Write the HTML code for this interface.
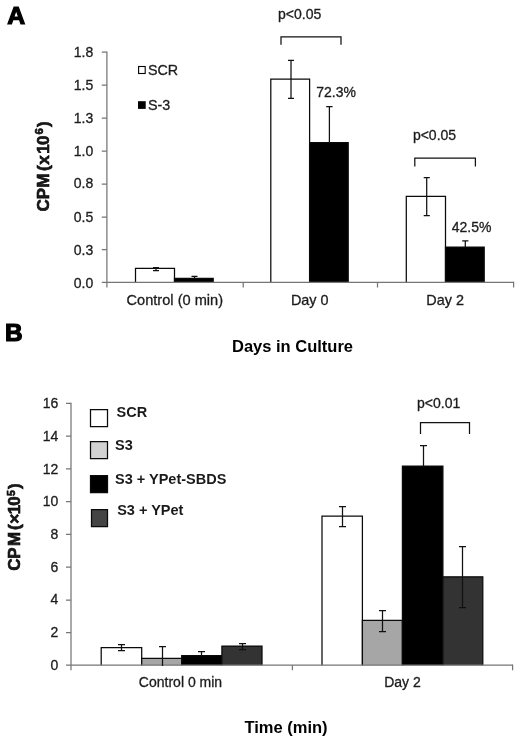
<!DOCTYPE html>
<html>
<head>
<meta charset="utf-8">
<title>Figure</title>
<style>
html,body{margin:0;padding:0;background:#fff;}
body{width:520px;height:741px;overflow:hidden;}
svg{display:block;filter:grayscale(1);}
text{font-family:"Liberation Sans",sans-serif;fill:#1a1a1a;}
.t{font-size:14px;stroke:#222;stroke-width:0.3;}
.b{font-weight:bold;fill:#000;}
.ax{stroke:#767676;stroke-width:1.25;fill:none;}
.ln{stroke:#111;stroke-width:1.25;fill:none;}
.bar{stroke:#0a0a0a;stroke-width:1.25;}
</style>
</head>
<body>
<svg width="520" height="741" viewBox="0 0 520 741">
<rect width="520" height="741" fill="#fff"/>

<!-- ================= PANEL A ================= -->
<text x="7.2" y="24" class="b" style="font-size:24.8px;stroke:#000;stroke-width:1.2;stroke-linejoin:miter">A</text>

<!-- axes -->
<g class="t" text-anchor="end">
<text x="93.3" y="56.8">1.8</text>
<text x="93.3" y="89.7">1.5</text>
<text x="93.3" y="122.9">1.3</text>
<text x="93.3" y="156.1">1.0</text>
<text x="93.3" y="188.3">0.8</text>
<text x="93.3" y="221.5">0.5</text>
<text x="93.3" y="255.1">0.3</text>
<text x="93.3" y="287.6">0.0</text>
</g>

<!-- bars A -->
<path class="bar" d="M135.5 282.4V268.4H174.5V282.4" fill="#fff"/>
<path class="bar" d="M174.5 282.4V278.3H213.2V282.4" fill="#000"/>
<path class="bar" d="M270.8 282.4V79H309.6V282.4" fill="#fff"/>
<path class="bar" d="M309.6 282.4V142.6H348.2V282.4" fill="#000"/>
<path class="bar" d="M406.3 282.4V196.3H445.5V282.4" fill="#fff"/>
<path class="bar" d="M445.5 282.4V247H484.2V282.4" fill="#000"/>

<g class="ax">
<path d="M106.9 51.5 V282.4 H513.6"/>
<path d="M101.8 52.1H106.9 M101.8 85.1H106.9 M101.8 118.0H106.9 M101.8 151.1H106.9 M101.8 184.2H106.9 M101.8 217.1H106.9 M101.8 249.5H106.9 M101.8 282.4H106.9"/>
<path d="M106.9 282.4V287.4 M243.2 282.4V287.4 M377.5 282.4V287.4 M513.6 281.8V287.4"/>
</g>

<!-- error bars A -->
<g class="ln">
<path d="M156 267.5V270.5 M153 267.5H159 M153 270.5H159"/>
<path d="M194.5 276.4V279 M191.5 276.4H197.5"/>
<path d="M291 60.3V98.3 M288 60.3H294 M288 98.3H294"/>
<path d="M329.4 106.6V143 M326.2 106.6H332.6"/>
<path d="M426.7 177.5V215.7 M423.7 177.5H429.8 M423.7 215.7H429.8"/>
<path d="M465.3 240.8V247 M462.2 240.8H468.4"/>
<!-- brackets -->
<path d="M281 44.7V36.8H341V44.7"/>
<path d="M414.8 166.6V158H475.4V166.6"/>
</g>

<!-- annotations -->
<text class="t" x="278" y="19.2">p&lt;0.05</text>
<text class="t" x="412.9" y="140.4">p&lt;0.05</text>
<text class="t" x="316.3" y="97.2">72.3%</text>
<text class="t" x="451.7" y="231.8">42.5%</text>

<!-- legend A -->
<rect x="138.6" y="66.5" width="6.6" height="7" fill="#fff" stroke="#000" stroke-width="1.1"/>
<text class="t" x="148" y="74.5" style="font-size:14.3px">SCR</text>
<rect x="138" y="101.2" width="7.7" height="7.7" fill="#000"/>
<text class="t" x="148" y="110.3" style="font-size:14.3px">S-3</text>

<!-- x labels A -->
<g class="t" text-anchor="middle" style="font-size:14.4px">
<text x="174.8" y="304.8" style="font-size:14.6px">Control (0 min)</text>
<text x="309.7" y="304.8">Day 0</text>
<text x="445.1" y="304.8">Day 2</text>
</g>
<text class="b" x="292.5" y="352.2" text-anchor="middle" style="font-size:16.5px">Days in Culture</text>

<!-- y title A -->
<g transform="translate(49.2 211) rotate(-90)" class="b" style="font-size:17px;stroke:#000;stroke-width:0.6">
<text x="-0.6 11.8 23.4 40 46.2 57.3 66" y="0">CPM(x10</text>
<text x="76.6" y="-6" style="font-size:11.5px">6</text>
<text x="84" y="0">)</text>
</g>

<!-- ================= PANEL B ================= -->
<text x="4.9" y="341" class="b" style="font-size:24.4px;stroke:#000;stroke-width:1.2;stroke-linejoin:miter">B</text>

<g class="t" text-anchor="end">
<text x="58.4" y="408.1">16</text>
<text x="58.4" y="440.8">14</text>
<text x="58.4" y="473.6">12</text>
<text x="58.4" y="506.3">10</text>
<text x="58.4" y="539.1">8</text>
<text x="58.4" y="571.8">6</text>
<text x="58.4" y="604">4</text>
<text x="58.4" y="637.3">2</text>
<text x="58.4" y="670.0">0</text>
</g>

<!-- bars B -->
<path class="bar" d="M101.2 665.2V647.6H141.7V665.2" fill="#fff"/>
<path class="bar" d="M141.7 665.2V658.3H181.7V665.2" fill="#a6a6a6"/>
<path class="bar" d="M181.7 665.2V655.7H221.9V665.2" fill="#000"/>
<path class="bar" d="M221.9 665.2V646H262V665.2" fill="#333"/>
<path class="bar" d="M322 665.2V516.1H362.4V665.2" fill="#fff"/>
<path class="bar" d="M362.4 665.2V620.4H402.4V665.2" fill="#a6a6a6"/>
<path class="bar" d="M402.4 665.2V466H442.9V665.2" fill="#000"/>
<path class="bar" d="M442.9 665.2V576.8H482.8V665.2" fill="#333"/>

<g class="ax">
<path d="M71 402.7 V665.2 H512.6"/>
<path d="M66 403.3H71 M66 436.0H71 M66 468.8H71 M66 501.5H71 M66 534.3H71 M66 567.0H71 M66 600H71 M66 632.5H71 M66 665.2H71"/>
<path d="M71 665.2V670.2 M292.4 665.2V670.2 M512.6 664.6V670.2"/>
</g>
<g class="ln">
<path d="M121.5 644V651 M118 644.5H125 M118 650.5H125"/>
<path d="M162.5 646V666 M159 646.5H166"/>
<path d="M201.5 651V656 M198 651.5H205"/>
<path d="M242.5 643V650 M239 643.5H246 M239 649.5H246"/>
<path d="M342.5 506V527 M339 506.5H346 M339 526.5H346"/>
<path d="M382.5 610V632 M379 610.5H386 M379 631.5H386"/>
<path d="M423.5 445V467 M420 445.5H427"/>
<path d="M462.5 546V608 M459 546.5H466 M459 607.5H466"/>
<path d="M420.5 434V422.5H469.5V434"/>
</g>
<text class="t" x="417" y="408.3">p&lt;0.01</text>

<!-- legend B -->
<path class="bar" d="M90.5 426.5V409.5H107.5V426.5Z" fill="#fff"/>
<path class="bar" d="M90.5 458.5V441.5H107.5V458.5Z" fill="#d2d2d2"/>
<path class="bar" d="M90.5 492.5V475.5H107.5V492.5Z" fill="#000"/>
<path class="bar" d="M91.5 526.5V509.5H107.5V526.5Z" fill="#444"/>
<g class="b" style="font-size:14.5px">
<text x="116.6" y="417.2">SCR</text>
<text x="115" y="450">S3</text>
<text x="115" y="483.7">S3 + YPet-SBDS</text>
<text x="117.2" y="515.3">S3 + YPet</text>
</g>

<g class="t" text-anchor="middle">
<text x="180.5" y="687.3">Control 0 min</text>
<text x="402.5" y="687.3">Day 2</text>
</g>
<text class="b" x="286" y="733.2" text-anchor="middle" style="font-size:16.5px">Time (min)</text>
<g transform="translate(19.8 570) rotate(-90)" class="b" style="font-size:17px;stroke:#000;stroke-width:0.6">
<text x="-0.8 11.2 24 40 46.2 55.8 64.2" y="0">CPM(×10</text>
<text x="74" y="-4.4" style="font-size:10.5px">5</text>
<text x="81" y="0">)</text>
</g>

</svg>
</body>
</html>
